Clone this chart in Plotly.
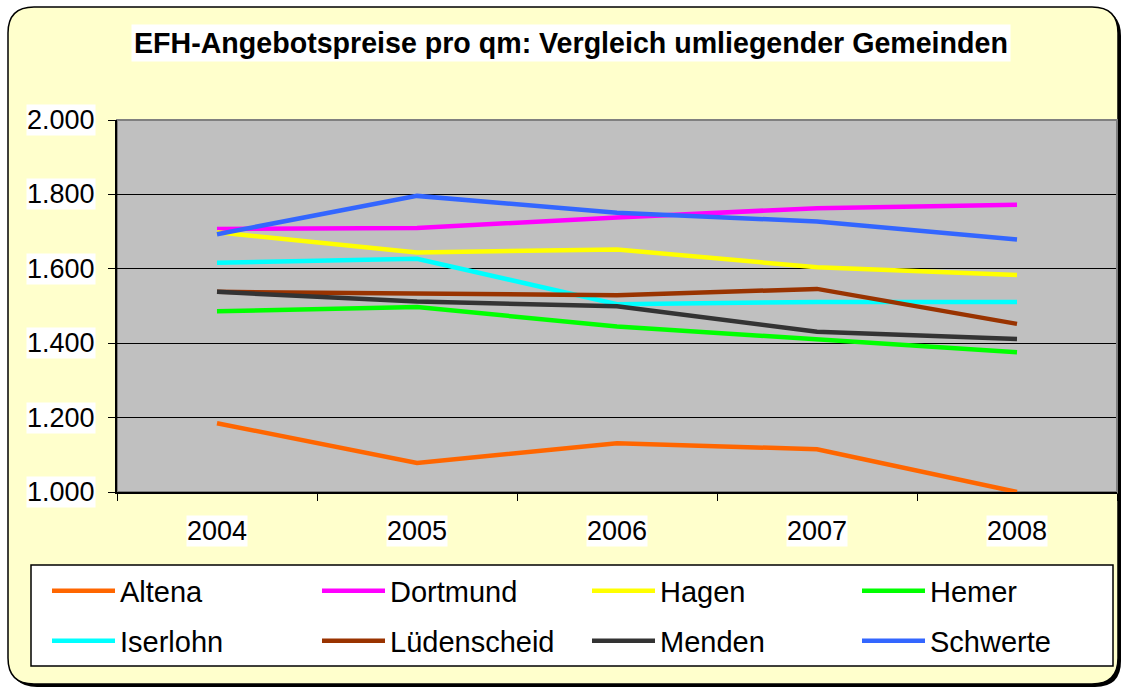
import plotly.graph_objects as go

# ---- data ----
years = ["2004", "2005", "2006", "2007", "2008"]
altena = [1185, 1078, 1131, 1115, 1000]
dortmund = [1707, 1710, 1738, 1763, 1772]
hagen = [1698, 1644, 1652, 1604, 1583]
hemer = [1486, 1497, 1445, 1409, 1376]
iserlohn = [1616, 1627, 1505, 1511, 1511]
luedenscheid = [1538, 1535, 1529, 1546, 1452]
menden = [1538, 1512, 1499, 1431, 1411]
schwerte = [1693, 1796, 1751, 1727, 1679]

names = ["Altena", "Dortmund", "Hagen", "Hemer", "Iserlohn", "Lüdenscheid", "Menden", "Schwerte"]
colors = ["#FF6600", "#FF00FF", "#FFFF00", "#00FF00", "#00FFFF", "#993300", "#333333", "#3366FF"]
series = [altena, dortmund, hagen, hemer, iserlohn, luedenscheid, menden, schwerte]

y_ticks = [1000, 1200, 1400, 1600, 1800, 2000]
y_tick_text = ["1.000", "1.200", "1.400", "1.600", "1.800", "2.000"]
title = "EFH-Angebotspreise pro qm: Vergleich umliegender Gemeinden"

# ---- geometry (pixels) ----
W, H = 1123, 690
PL, PR, PT, PB = 117, 1117, 120, 492
FONT = "Liberation Sans, Arial, sans-serif"


def px(x):
    return (x - PL) / (PR - PL)


def py(y):
    return (PB - y) / (PB - PT)


def rounded_path(x0, y0, x1, y1, r):
    pts = [
        f"M {px(x0 + r)},{py(y0)}",
        f"L {px(x1 - r)},{py(y0)}",
        f"Q {px(x1)},{py(y0)} {px(x1)},{py(y0 + r)}",
        f"L {px(x1)},{py(y1 - r)}",
        f"Q {px(x1)},{py(y1)} {px(x1 - r)},{py(y1)}",
        f"L {px(x0 + r)},{py(y1)}",
        f"Q {px(x0)},{py(y1)} {px(x0)},{py(y1 - r)}",
        f"L {px(x0)},{py(y0 + r)}",
        f"Q {px(x0)},{py(y0)} {px(x0 + r)},{py(y0)}",
        "Z",
    ]
    return " ".join(pts)


legend_cols = [47, 317, 587, 857]
legend_rows = [591, 641]

fig = go.Figure()
legends = {}
for i, (n, vals, c) in enumerate(zip(names, series, colors)):
    lname = "legend" if i == 0 else f"legend{i + 1}"
    fig.add_trace(go.Scatter(
        x=years, y=vals, name=n, mode="lines",
        line=dict(color=c, width=4.5),
        legend=lname,
    ))
    legends[lname] = dict(
        orientation="h", itemwidth=63, bgcolor="rgba(0,0,0,0)", borderwidth=0,
        font=dict(family=FONT, size=29, color="black"),
        xanchor="left", yanchor="middle",
        x=px(legend_cols[i % 4]), y=py(legend_rows[i // 4]),
    )

shapes = [
    # shadow
    dict(type="path", xref="paper", yref="paper", layer="below",
         path=rounded_path(11, 10, 1121, 687, 26), fillcolor="black", line=dict(width=0)),
    # chart area
    dict(type="path", xref="paper", yref="paper", layer="below",
         path=rounded_path(8, 7, 1118, 684, 26), fillcolor="#FFFFCC",
         line=dict(color="black", width=1.5)),
    # plot area
    dict(type="rect", xref="paper", yref="paper", layer="below",
         x0=0, x1=1, y0=0, y1=1, fillcolor="#C0C0C0",
         line=dict(color="#808080", width=2)),
    # legend box
    dict(type="rect", xref="paper", yref="paper", layer="below",
         x0=px(31), x1=px(1113), y0=py(666), y1=py(565), fillcolor="white",
         line=dict(color="black", width=1.5)),
    # gray top / right border of the plot area drawn over the grid
    dict(type="line", xref="paper", yref="paper", layer="above",
         x0=0, x1=1, y0=1, y1=1, line=dict(color="#808080", width=2)),
    dict(type="line", xref="paper", yref="paper", layer="above",
         x0=1, x1=1, y0=0, y1=1, line=dict(color="#808080", width=2)),
]

annotations = [
    dict(text=f"<b>{title}</b>", xref="paper", yref="paper", x=px(571), y=py(43),
         xanchor="center", yanchor="middle", showarrow=False, bgcolor="white",
         borderpad=2, font=dict(family=FONT, size=28.6, color="black")),
]
for v, t in zip(y_ticks, y_tick_text):
    annotations.append(dict(text=t, xref="paper", yref="y", x=px(96), y=v,
                            xanchor="right", yanchor="middle", showarrow=False,
                            bgcolor="white", borderpad=0,
                            font=dict(family=FONT, size=27, color="black")))
for i, yr in enumerate(years):
    annotations.append(dict(text=yr, xref="x", yref="paper", x=i, y=py(531),
                            xanchor="center", yanchor="middle", showarrow=False,
                            bgcolor="white", borderpad=0,
                            font=dict(family=FONT, size=27, color="black")))

fig.update_layout(
    width=W, height=H,
    margin=dict(l=PL, r=W - PR, t=PT, b=H - PB, autoexpand=False),
    paper_bgcolor="white",
    plot_bgcolor="rgba(0,0,0,0)",
    font=dict(family=FONT, size=27, color="black"),
    shapes=shapes,
    annotations=annotations,
    showlegend=True,
    xaxis=dict(type="category", range=[-0.5, 4.5], showticklabels=False,
               ticks="outside", ticklen=7, tickcolor="black", tickson="boundaries",
               showline=True, linecolor="black", linewidth=1.5, showgrid=False,
               zeroline=False, fixedrange=True),
    yaxis=dict(range=[1000, 2000], tickvals=y_ticks, showticklabels=False,
               ticks="outside", ticklen=7, tickcolor="black",
               showline=True, linecolor="black", linewidth=1.5,
               showgrid=True, gridcolor="black", gridwidth=1,
               zeroline=False, fixedrange=True),
    **legends,
)

fig.write_html("out.html", config={"displayModeBar": False},
               post_script="document.body.style.margin='0';")
